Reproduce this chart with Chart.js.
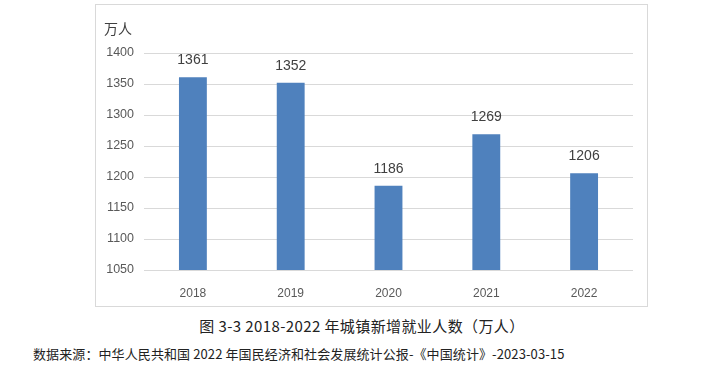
<!DOCTYPE html>
<html><head><meta charset="utf-8">
<script src="https://cdn.jsdelivr.net/npm/chart.js@4"></script>
<style>
html,body{margin:0;padding:0;background:#fff;width:718px;height:373px;overflow:hidden;}
#box{position:absolute;left:95px;top:4px;width:551px;height:301px;border:1px solid #d9d9d9;}
#cap1{position:absolute;left:0;width:724px;top:315px;text-align:center;font:15px "Noto Sans CJK SC",sans-serif;color:#222;letter-spacing:0.4px;}
#cap2{position:absolute;left:33px;top:344px;font:13px "Noto Sans CJK SC",sans-serif;color:#222;white-space:nowrap;letter-spacing:0.1px;}
</style></head><body>
<div id="box"><canvas id="c" width="551" height="301"></canvas></div>
<div id="cap1">图 3-3 2018-2022 年城镇新增就业人数（万人）</div>
<div id="cap2">数据来源：中华人民共和国 2022 年国民经济和社会发展统计公报-《中国统计》-2023-03-15</div>
<script>
const categories = ["2018","2019","2020","2021","2022"];
const values = [1361,1352,1186,1269,1206];
const unitLabel = "万人";
const yMin = 1050, yMax = 1400, yStep = 50;

const labelPlugin = {
  id:'labels',
  afterDatasetsDraw(chart){
    const ctx = chart.ctx;
    ctx.save();
    ctx.font = '14px "Liberation Sans", sans-serif';
    ctx.fillStyle = '#404040';
    ctx.textAlign = 'center';
    ctx.textBaseline = 'middle';
    chart.getDatasetMeta(0).data.forEach((el,i)=>{
      ctx.fillText(String(values[i]), el.x, el.y - 17);
    });
    ctx.font = '14px "Noto Sans CJK SC", sans-serif';
    ctx.fillStyle = '#404040';
    ctx.textAlign = 'left';
    ctx.fillText(unitLabel, 8, 24);
    ctx.restore();
  }
};

new Chart(document.getElementById('c'), {
  type:'bar',
  data:{labels:categories, datasets:[{data:values, backgroundColor:'#4f81bd', barPercentage:0.57, categoryPercentage:0.5}]},
  options:{
    responsive:false, animation:false,
    layout:{padding:{left:0,right:14,top:48,bottom:0}},
    plugins:{legend:{display:false},tooltip:{enabled:false}},
    scales:{
      x:{grid:{display:false},border:{display:false},
         ticks:{color:'#595959',font:{size:12,family:'"Liberation Sans", sans-serif'},padding:8},
         afterFit(s){s.height=36;}},
      y:{min:yMin,max:yMax,ticks:{stepSize:yStep,color:'#595959',font:{size:12.5,family:'"Liberation Sans", sans-serif'},padding:10,callback:v=>String(v)},
         grid:{color:'#d9d9d9',drawTicks:false},border:{display:false},
         afterFit(s){s.width=48;}}
    }
  },
  plugins:[labelPlugin]
});
</script>
</body></html>
